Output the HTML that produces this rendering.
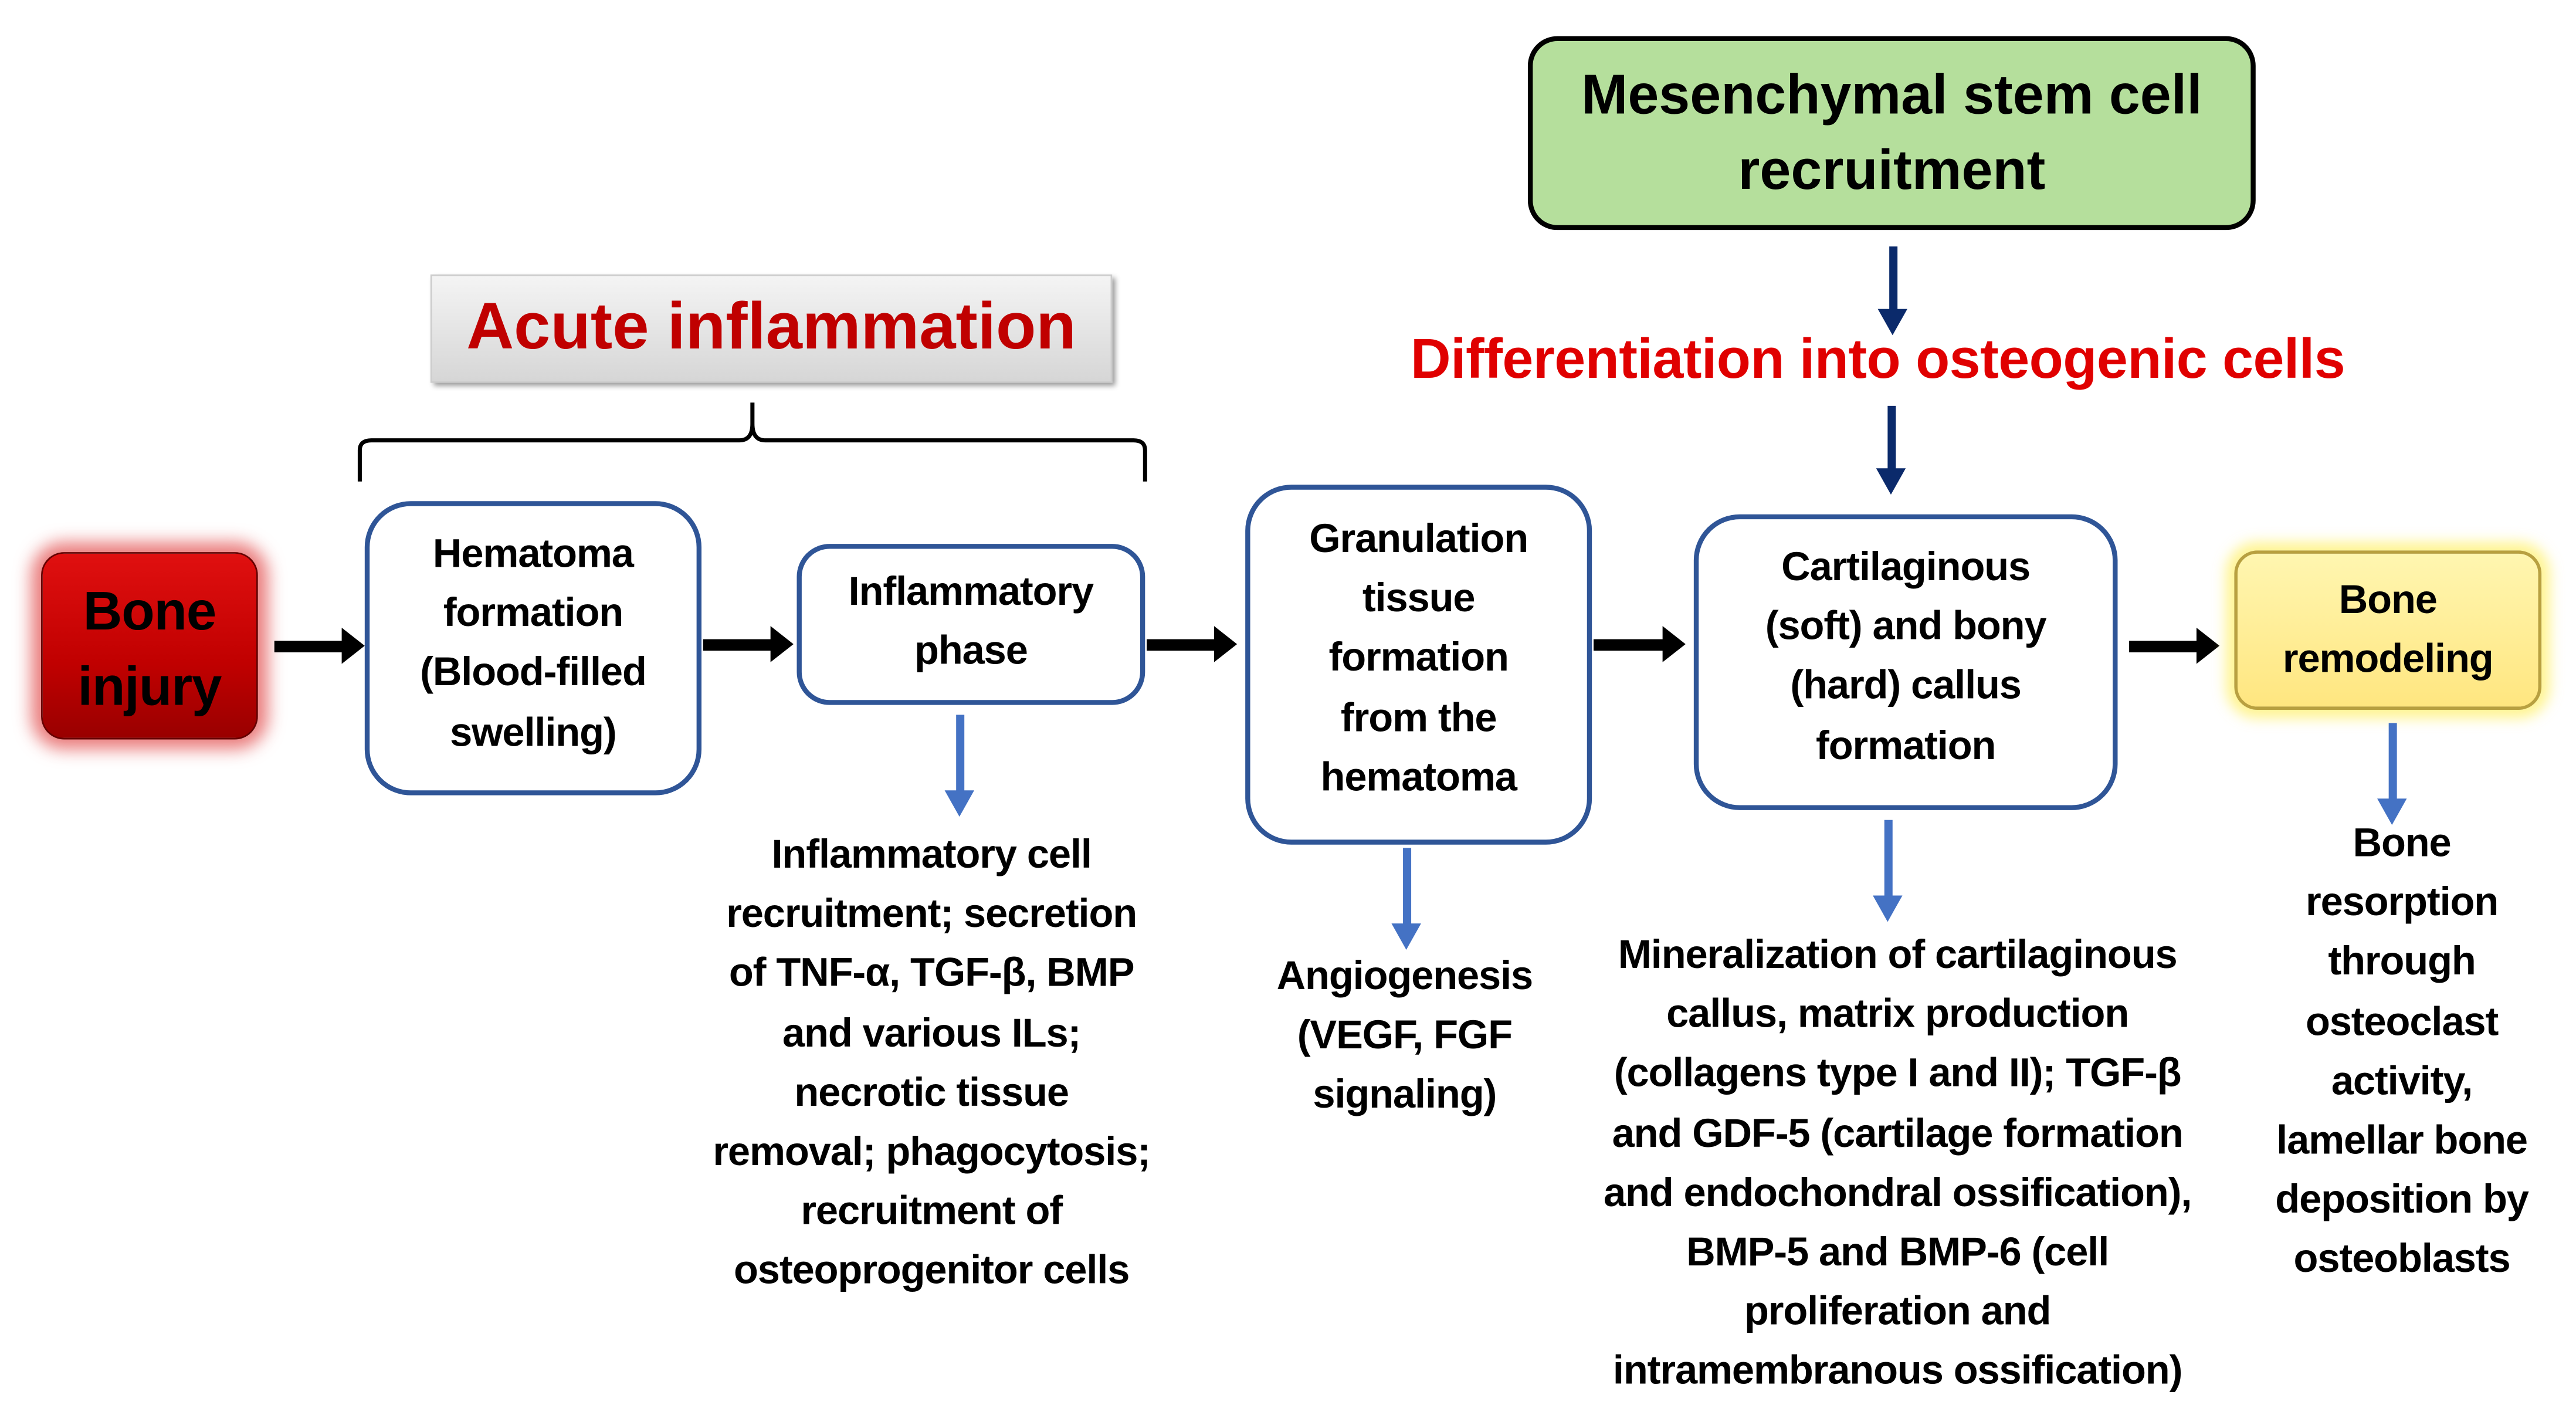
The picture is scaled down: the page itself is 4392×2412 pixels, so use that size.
<!DOCTYPE html>
<html><head><meta charset="utf-8"><style>
html,body{margin:0;padding:0;background:#fff;}
body{width:4392px;height:2412px;overflow:hidden;position:relative;}
#c{position:absolute;left:0;top:0;width:1568px;height:861px;transform:scale(2.801);transform-origin:0 0;font-family:"Liberation Sans",sans-serif;font-weight:bold;}
.a{position:absolute;box-sizing:border-box;}
.box{border:3px solid #2F5597;border-radius:28px;background:#fff;}
.t{position:absolute;text-align:center;font-size:24.5px;line-height:36.2px;color:#000;letter-spacing:-0.4px;white-space:nowrap;}
.ar{position:absolute;height:7px;background:#000;}
.ar:after{content:"";position:absolute;right:-10px;top:-8px;border-left:14px solid #000;border-top:11.5px solid transparent;border-bottom:11.5px solid transparent;}
.dn{position:absolute;width:5px;background:#4472C4;}
.dn:after{content:"";position:absolute;left:-7px;bottom:-14px;border-top:16px solid #4472C4;border-left:9.5px solid transparent;border-right:9.5px solid transparent;}
.nv{background:#0B2A6B;}
.nv:after{border-top-color:#0B2A6B;}
</style></head><body><div id="c">
<div class="a" style="left:25px;top:336px;width:132px;height:114px;border-radius:14px;background:linear-gradient(#e01010,#c00000 60%,#900);box-shadow:0 0 10px 6px rgba(220,40,40,0.6);border:1px solid #600;"></div>
<div class="t" style="left:25px;width:132px;top:349px;font-size:33px;line-height:46px;">Bone<br>injury</div>
<div class="ar" style="left:167px;top:390px;width:45px;"></div>
<div class="ar" style="left:428px;top:389px;width:45px;"></div>
<div class="ar" style="left:698px;top:389px;width:45px;"></div>
<div class="ar" style="left:970px;top:389px;width:46px;"></div>
<div class="ar" style="left:1296px;top:390px;width:45px;"></div>
<div class="a box" style="left:222px;top:305px;width:205px;height:179px;"></div>
<div class="t" style="left:222px;width:205px;top:320px;">Hematoma<br>formation<br>(Blood-filled<br>swelling)</div>
<div class="a box" style="left:485px;top:331px;width:212px;height:98px;border-radius:20px;"></div>
<div class="t" style="left:485px;width:212px;top:343px;">Inflammatory<br>phase</div>
<div class="a box" style="left:758px;top:295px;width:211px;height:219px;"></div>
<div class="t" style="left:758px;width:211px;top:311px;">Granulation<br>tissue<br>formation<br>from the<br>hematoma</div>
<div class="a box" style="left:1031px;top:313px;width:258px;height:180px;"></div>
<div class="t" style="left:1031px;width:258px;top:328px;">Cartilaginous<br>(soft) and bony<br>(hard) callus<br>formation</div>
<div class="a" style="left:1360px;top:335px;width:187px;height:97px;border-radius:14px;background:linear-gradient(#fff6b0,#ffe680);border:2px solid #b8a040;box-shadow:0 0 8px 5px rgba(255,240,100,0.7);"></div>
<div class="t" style="left:1360px;width:187px;top:348px;">Bone<br>remodeling</div>
<div class="a" style="left:262px;top:167px;width:415px;height:66px;background:linear-gradient(#f4f4f4,#d6d6d6);box-shadow:2px 2px 3px #999;border:1px solid #ccc;"></div>
<div class="t" style="left:262px;width:415px;top:175px;font-size:40px;line-height:48px;color:#C00000;letter-spacing:0;">Acute inflammation</div>
<svg class="a" style="left:0;top:0;" width="1568" height="861"><path d="M219 293 V274 Q219 268 226 268 H450 Q458 268 458 258 V245 M458 258 Q458 268 466 268 H690 Q697 268 697 274 V293" fill="none" stroke="#000" stroke-width="2.5"/></svg>
<div class="a" style="left:930px;top:22px;width:443px;height:118px;border-radius:18px;background:#B5DF9C;border:3px solid #000;"></div>
<div class="t" style="left:930px;width:443px;top:35px;font-size:34px;line-height:46px;letter-spacing:0;">Mesenchymal stem cell<br>recruitment</div>
<div class="dn nv" style="left:1150px;top:150px;height:40px;"></div>
<div class="t" style="left:793px;width:700px;top:198px;font-size:34px;line-height:42px;color:#E00000;letter-spacing:-0.2px;">Differentiation into osteogenic cells</div>
<div class="dn nv" style="left:1149px;top:247px;height:40px;"></div>
<div class="dn" style="left:582px;top:435px;height:48px;"></div>
<div class="dn" style="left:854px;top:516px;height:48px;"></div>
<div class="dn" style="left:1147px;top:499px;height:48px;"></div>
<div class="dn" style="left:1454px;top:440px;height:48px;"></div>
<div class="t" style="left:407px;width:320px;top:503px;">Inflammatory cell<br>recruitment; secretion<br>of TNF-α, TGF-β, BMP<br>and various ILs;<br>necrotic tissue<br>removal; phagocytosis;<br>recruitment of<br>osteoprogenitor cells</div>
<div class="t" style="left:745px;width:220px;top:577px;">Angiogenesis<br>(VEGF, FGF<br>signaling)</div>
<div class="t" style="left:935px;width:440px;top:564px;">Mineralization of cartilaginous<br>callus, matrix production<br>(collagens type I and II); TGF-β<br>and GDF-5 (cartilage formation<br>and endochondral ossification),<br>BMP-5 and BMP-6 (cell<br>proliferation and<br>intramembranous ossification)</div>
<div class="t" style="left:1362px;width:200px;top:496px;">Bone<br>resorption<br>through<br>osteoclast<br>activity,<br>lamellar bone<br>deposition by<br>osteoblasts</div>
</div></body></html>
